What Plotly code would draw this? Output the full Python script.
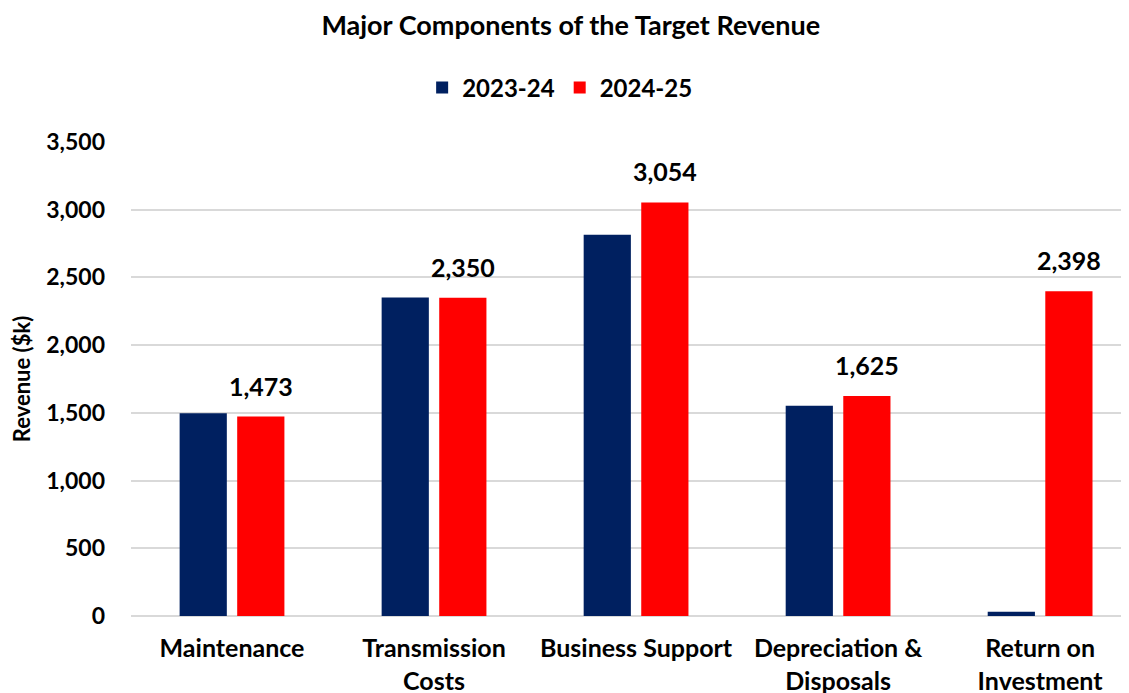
import plotly.graph_objects as go

categories = ["Maintenance", "Transmission<br>Costs", "Business Support",
              "Depreciation &<br>Disposals", "Return on<br>Investment"]
series_names = ["2023-24", "2024-25"]
values_2023 = [1498, 2352, 2815, 1552, 32]
values_2024 = [1473, 2350, 3054, 1625, 2398]

NAVY = "#002060"
RED = "#FF0000"
FONT = "Lato"

fig = go.Figure()
fig.add_trace(go.Bar(x=categories, y=values_2023, name=f"<b>{series_names[0]}</b>",
                     marker=dict(color=NAVY, line=dict(width=0))))
fig.add_trace(go.Bar(x=categories, y=values_2024, name=f"<b>{series_names[1]}</b>",
                     marker=dict(color=RED, line=dict(width=0))))

# подписи только у 2024-25, чуть выше столбца, как в Excel
for cat, val in zip(categories, values_2024):
    fig.add_annotation(x=cat, y=val, text=f"<b>{val:,}</b>", showarrow=False,
                       xref="x", yref="y", xanchor="center", yanchor="bottom",
                       xshift=29, yshift=14,
                       font=dict(family=FONT, size=25, color="black"))

# страница имеет отступ body 8px, поэтому фигура на 8px меньше окна
fig.update_layout(
    width=1121, height=685,
    paper_bgcolor="white", plot_bgcolor="white",
    font=dict(family=FONT, color="black"),
    title=dict(text="<b>Major Components of the Target Revenue</b>",
               x=0.502, xanchor="center", y=0.975, yanchor="middle",
               font=dict(family=FONT, size=27, color="black")),
    legend=dict(orientation="h", x=0.43, xanchor="center", y=1.114, yanchor="middle",
                font=dict(family=FONT, size=24, color="black"),
                itemwidth=30, traceorder="normal"),
    barmode="group", bargap=0.43, bargroupgap=0.18,
    margin=dict(l=123, r=0, t=134, b=77),
    showlegend=True,
)
fig.update_xaxes(range=[-0.5, 4.44], showgrid=False, showline=False, ticks="",
                 ticklabelstandoff=15,
                 tickfont=dict(family=FONT, size=25, color="black"),
                 tickprefix="<b>", ticksuffix="</b>", automargin=False)
fig.update_yaxes(range=[0, 3500], dtick=500, tickformat=",",
                 showgrid=True, gridcolor="#D9D9D9", gridwidth=1.5,
                 zeroline=True, zerolinecolor="#D9D9D9", zerolinewidth=1.5,
                 showline=False, ticks="", ticklabelstandoff=25,
                 tickfont=dict(family=FONT, size=23, color="black"),
                 tickprefix="<b>", ticksuffix="</b>",
                 title=dict(text="<b>Revenue ($k)</b>", standoff=17,
                            font=dict(family=FONT, size=22, color="black")),
                 automargin=False)

fig.write_html("out.html")
